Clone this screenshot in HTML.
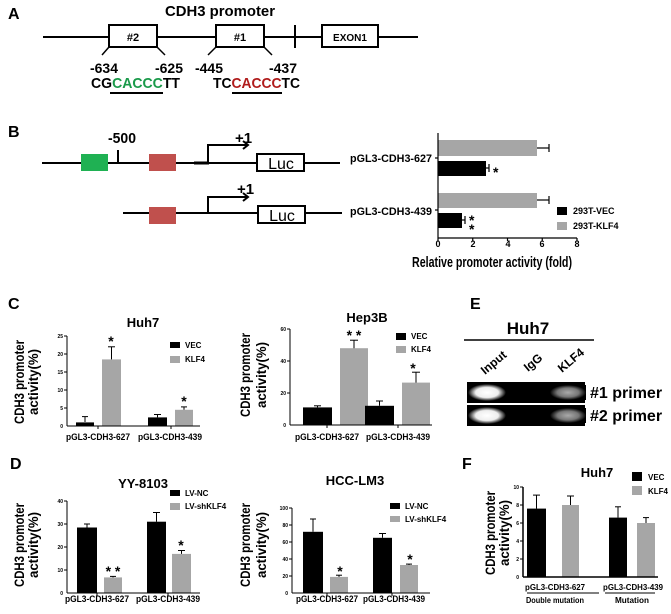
<!DOCTYPE html>
<html><head><meta charset="utf-8"><style>
html,body{margin:0;padding:0;background:#fff}
svg{display:block}
text{font-family:"Liberation Sans",sans-serif;font-weight:bold;fill:#000}
</style></head><body>
<svg width="671" height="614" viewBox="0 0 671 614" xmlns="http://www.w3.org/2000/svg">
<!-- A -->
<text x="8" y="19" font-size="16">A</text>
<text x="165" y="16" font-size="15" textLength="110" lengthAdjust="spacingAndGlyphs">CDH3  promoter</text>
<g stroke="#000" stroke-width="2" fill="none">
<line x1="43" y1="37" x2="418" y2="37"/>
<rect x="109" y="25" width="48" height="22" fill="#fff"/>
<rect x="216" y="25" width="48" height="22" fill="#fff"/>
<rect x="322" y="25" width="56" height="22" fill="#fff"/>
<line x1="295" y1="25" x2="295" y2="48"/>
<line x1="109" y1="47" x2="102" y2="55" stroke-width="1.5"/>
<line x1="157" y1="47" x2="165" y2="55" stroke-width="1.5"/>
<line x1="216" y1="47" x2="208" y2="55" stroke-width="1.5"/>
<line x1="264" y1="47" x2="272" y2="55" stroke-width="1.5"/>
</g>
<text x="133" y="41" font-size="11" text-anchor="middle">#2</text>
<text x="240" y="41" font-size="11" text-anchor="middle">#1</text>
<text x="350" y="41" font-size="10" text-anchor="middle">EXON1</text>
<text x="90" y="73" font-size="14" textLength="28" lengthAdjust="spacingAndGlyphs">-634</text>
<text x="155" y="73" font-size="14" textLength="28" lengthAdjust="spacingAndGlyphs">-625</text>
<text x="195" y="73" font-size="14" textLength="28" lengthAdjust="spacingAndGlyphs">-445</text>
<text x="269" y="73" font-size="14" textLength="28" lengthAdjust="spacingAndGlyphs">-437</text>
<text x="91" y="88" font-size="15" textLength="89" lengthAdjust="spacingAndGlyphs">CG<tspan fill="#1a9a4a">CACCC</tspan>TT</text>
<text x="213" y="88" font-size="15" textLength="87" lengthAdjust="spacingAndGlyphs">TC<tspan fill="#b01c1c">CACCC</tspan>TC</text>
<line x1="110" y1="93" x2="163" y2="93" stroke="#000" stroke-width="2"/>
<line x1="232" y1="93" x2="282" y2="93" stroke="#000" stroke-width="2"/>

<!-- B diagram -->
<text x="8" y="137" font-size="16">B</text>
<g stroke="#000" stroke-width="2" fill="none">
<line x1="42" y1="163" x2="340" y2="163"/>
<line x1="118" y1="150" x2="118" y2="163"/>
<line x1="194" y1="163" x2="209" y2="163" stroke-width="3"/>
<polyline points="208,163 208,145 248,145"/>
<polyline points="243,141 248,145 243,149"/>
<line x1="123" y1="213" x2="342" y2="213"/>
<polyline points="208,213 208,197 248,197"/>
<polyline points="243,193 248,197 243,201"/>
<rect x="257" y="154" width="47" height="17" fill="#fff"/>
<rect x="258" y="206" width="47" height="17" fill="#fff"/>
</g>
<rect x="81" y="154" width="27" height="17" fill="#1fb153"/>
<rect x="149" y="154" width="27" height="17" fill="#c0504d"/>
<rect x="149" y="207" width="27" height="17" fill="#c0504d"/>
<text x="108" y="143" font-size="15" textLength="28" lengthAdjust="spacingAndGlyphs">-500</text>
<text x="235" y="143" font-size="15">+1</text>
<text x="237" y="194" font-size="15">+1</text>
<text x="281" y="169" font-size="16" text-anchor="middle" style="font-weight:normal">Luc</text>
<text x="282" y="221" font-size="16" text-anchor="middle" style="font-weight:normal">Luc</text>

<!-- B chart -->
<g>
<rect x="438" y="140" width="99" height="16" fill="#a6a6a6"/>
<rect x="438" y="161" width="48" height="15" fill="#000"/>
<rect x="438" y="193" width="99" height="15" fill="#a6a6a6"/>
<rect x="438" y="213" width="24" height="15" fill="#000"/>
<g stroke="#000" stroke-width="1.2">
<line x1="537" y1="148" x2="549" y2="148"/><line x1="549" y1="144" x2="549" y2="152"/>
<line x1="486" y1="168" x2="489" y2="168"/><line x1="489" y1="164" x2="489" y2="172"/>
<line x1="537" y1="200" x2="549" y2="200"/><line x1="549" y1="196" x2="549" y2="204"/>
<line x1="462" y1="220" x2="465" y2="220"/><line x1="465" y1="216" x2="465" y2="224"/>
<line x1="438" y1="133" x2="438" y2="238"/>
<line x1="438" y1="238" x2="577" y2="238"/>
<line x1="435" y1="158" x2="438" y2="158"/><line x1="435" y1="210" x2="438" y2="210"/>
<line x1="438" y1="238" x2="438" y2="241"/><line x1="472.75" y1="238" x2="472.75" y2="241"/><line x1="507.5" y1="238" x2="507.5" y2="241"/><line x1="542.25" y1="238" x2="542.25" y2="241"/><line x1="577" y1="238" x2="577" y2="241"/>
</g>
<g font-size="9" text-anchor="middle" style="font-weight:normal">
<text x="438" y="247">0</text><text x="473" y="247">2</text><text x="508" y="247">4</text><text x="542" y="247">6</text><text x="577" y="247">8</text>
</g>
<text x="432" y="162" font-size="11" text-anchor="end" textLength="82" lengthAdjust="spacingAndGlyphs">pGL3-CDH3-627</text>
<text x="432" y="215" font-size="11" text-anchor="end" textLength="82" lengthAdjust="spacingAndGlyphs">pGL3-CDH3-439</text>
<text x="493" y="177" font-size="14">*</text>
<text x="469" y="225" font-size="14">*</text>
<text x="469" y="234" font-size="14">*</text>
<rect x="557" y="207" width="10" height="8" fill="#000"/>
<rect x="557" y="222" width="10" height="8" fill="#a6a6a6"/>
<text x="573" y="214" font-size="9">293T-VEC</text>
<text x="573" y="229" font-size="9">293T-KLF4</text>
<text x="492" y="267" font-size="15" text-anchor="middle" textLength="160" lengthAdjust="spacingAndGlyphs">Relative promoter activity (fold)</text>
</g>

<!-- C -->
<text x="8" y="309" font-size="16">C</text>
<text x="143" y="327" font-size="13" text-anchor="middle">Huh7</text>
<g transform="translate(24,382) rotate(-90)"><text x="0" y="0" font-size="14" text-anchor="middle" textLength="84" lengthAdjust="spacingAndGlyphs">CDH3 promoter</text></g>
<g transform="translate(38,382) rotate(-90)"><text x="0" y="0" font-size="14" text-anchor="middle" textLength="66" lengthAdjust="spacingAndGlyphs">activity(%)</text></g>
<rect x="76" y="422.4" width="18" height="3.6" fill="#000"/>
<rect x="102" y="359.4" width="19" height="66.6" fill="#a6a6a6"/>
<rect x="148" y="417.4" width="19" height="8.6" fill="#000"/>
<rect x="175" y="409.8" width="18" height="16.2" fill="#a6a6a6"/>
<g stroke="#000" stroke-width="1">
<line x1="85" y1="422" x2="85" y2="416.6"/><line x1="82" y1="416.6" x2="88" y2="416.6"/>
<line x1="111.5" y1="359.4" x2="111.5" y2="346.8"/><line x1="108" y1="346.8" x2="115" y2="346.8"/>
<line x1="157.5" y1="417.4" x2="157.5" y2="414.5"/><line x1="154" y1="414.5" x2="161" y2="414.5"/>
<line x1="184" y1="409.8" x2="184" y2="406.9"/><line x1="181" y1="406.9" x2="187" y2="406.9"/>
<line x1="67" y1="336" x2="67" y2="426"/><line x1="67" y1="426" x2="200" y2="426"/>
<line x1="64" y1="336" x2="67" y2="336"/><line x1="64" y1="354" x2="67" y2="354"/><line x1="64" y1="372" x2="67" y2="372"/><line x1="64" y1="390" x2="67" y2="390"/><line x1="64" y1="408" x2="67" y2="408"/>
<line x1="98" y1="426" x2="98" y2="429"/><line x1="171" y1="426" x2="171" y2="429"/>
</g>
<g font-size="5" text-anchor="end" style="font-weight:normal"><text x="63" y="338">25</text><text x="63" y="356">20</text><text x="63" y="374">15</text><text x="63" y="392">10</text><text x="63" y="410">5</text><text x="63" y="428">0</text></g>
<text x="98" y="440" font-size="9" text-anchor="middle" textLength="64" lengthAdjust="spacingAndGlyphs">pGL3-CDH3-627</text>
<text x="170" y="440" font-size="9" text-anchor="middle" textLength="64" lengthAdjust="spacingAndGlyphs">pGL3-CDH3-439</text>
<text x="111" y="346" font-size="14" text-anchor="middle">*</text>
<text x="184" y="406" font-size="14" text-anchor="middle">*</text>
<rect x="170" y="342" width="10" height="6" fill="#000"/><text x="185" y="348" font-size="8">VEC</text>
<rect x="170" y="356" width="10" height="7" fill="#a6a6a6"/><text x="185" y="362" font-size="8">KLF4</text>

<!-- Hep3B -->
<text x="367" y="322" font-size="13" text-anchor="middle">Hep3B</text>
<g transform="translate(250,375) rotate(-90)"><text x="0" y="0" font-size="14" text-anchor="middle" textLength="84" lengthAdjust="spacingAndGlyphs">CDH3 promoter</text></g>
<g transform="translate(266,375) rotate(-90)"><text x="0" y="0" font-size="14" text-anchor="middle" textLength="66" lengthAdjust="spacingAndGlyphs">activity(%)</text></g>
<rect x="303" y="407.4" width="29" height="17.6" fill="#000"/>
<rect x="340" y="348.2" width="28" height="76.8" fill="#a6a6a6"/>
<rect x="365" y="405.8" width="29" height="19.2" fill="#000"/>
<rect x="402" y="382.6" width="28" height="42.4" fill="#a6a6a6"/>
<g stroke="#000" stroke-width="1">
<line x1="317.5" y1="407.4" x2="317.5" y2="405.8"/><line x1="314" y1="405.8" x2="321" y2="405.8"/>
<line x1="354" y1="348.2" x2="354" y2="340.2"/><line x1="350" y1="340.2" x2="358" y2="340.2"/>
<line x1="379.5" y1="405.8" x2="379.5" y2="401"/><line x1="376" y1="401" x2="383" y2="401"/>
<line x1="416" y1="382.6" x2="416" y2="372.2"/><line x1="412" y1="372.2" x2="420" y2="372.2"/>
<line x1="290" y1="329" x2="290" y2="425"/><line x1="290" y1="425" x2="432" y2="425"/>
<line x1="287" y1="329" x2="290" y2="329"/><line x1="287" y1="361" x2="290" y2="361"/><line x1="287" y1="393" x2="290" y2="393"/>
<line x1="327" y1="425" x2="327" y2="428"/><line x1="398" y1="425" x2="398" y2="428"/>
</g>
<g font-size="5" text-anchor="end" style="font-weight:normal"><text x="286" y="331">60</text><text x="286" y="363">40</text><text x="286" y="395">20</text><text x="286" y="427">0</text></g>
<text x="327" y="440" font-size="9" text-anchor="middle" textLength="64" lengthAdjust="spacingAndGlyphs">pGL3-CDH3-627</text>
<text x="398" y="440" font-size="9" text-anchor="middle" textLength="64" lengthAdjust="spacingAndGlyphs">pGL3-CDH3-439</text>
<text x="354" y="340" font-size="14" text-anchor="middle">* *</text>
<text x="413" y="373" font-size="14" text-anchor="middle">*</text>
<rect x="396" y="333" width="10" height="7" fill="#000"/><text x="411" y="339" font-size="8">VEC</text>
<rect x="396" y="346" width="10" height="7" fill="#a6a6a6"/><text x="411" y="352" font-size="8">KLF4</text>

<!-- E -->
<text x="470" y="309" font-size="16">E</text>
<text x="528" y="334" font-size="17" text-anchor="middle">Huh7</text>
<line x1="464" y1="340" x2="594" y2="340" stroke="#000" stroke-width="1.5"/>
<g font-size="12"><text transform="translate(485,375) rotate(-40)">Input</text><text transform="translate(528,372) rotate(-40)">IgG</text><text transform="translate(562,373) rotate(-40)">KLF4</text></g>
<rect x="467" y="382" width="118" height="21" fill="#000"/>
<rect x="467" y="405" width="118" height="21" fill="#000"/>
<defs>
<radialGradient id="g1" cx="0.5" cy="0.5" r="0.5"><stop offset="0" stop-color="#fff"/><stop offset="0.6" stop-color="#eee"/><stop offset="1" stop-color="#000"/></radialGradient>
<radialGradient id="g2" cx="0.5" cy="0.5" r="0.5"><stop offset="0" stop-color="#aaa"/><stop offset="0.6" stop-color="#777"/><stop offset="1" stop-color="#000"/></radialGradient>
</defs>
<rect x="468" y="384" width="38" height="17" fill="url(#g1)"/>
<rect x="468" y="407" width="38" height="17" fill="url(#g1)"/>
<rect x="550" y="385" width="36" height="15" fill="url(#g2)"/>
<rect x="550" y="408" width="36" height="15" fill="url(#g2)"/>
<text x="590" y="398" font-size="16">#1 primer</text>
<text x="590" y="421" font-size="16">#2 primer</text>

<!-- D -->
<text x="10" y="469" font-size="16">D</text>
<text x="143" y="488" font-size="13" text-anchor="middle">YY-8103</text>
<g transform="translate(24,545) rotate(-90)"><text x="0" y="0" font-size="14" text-anchor="middle" textLength="84" lengthAdjust="spacingAndGlyphs">CDH3 promoter</text></g>
<g transform="translate(38,545) rotate(-90)"><text x="0" y="0" font-size="14" text-anchor="middle" textLength="66" lengthAdjust="spacingAndGlyphs">activity(%)</text></g>
<rect x="77" y="527.5" width="20" height="65.5" fill="#000"/>
<rect x="104" y="577.4" width="18" height="15.6" fill="#a6a6a6"/>
<rect x="147" y="521.7" width="19" height="71.3" fill="#000"/>
<rect x="172" y="553.9" width="19" height="39.1" fill="#a6a6a6"/>
<g stroke="#000" stroke-width="1">
<line x1="87" y1="527.5" x2="87" y2="524"/><line x1="84" y1="524" x2="90" y2="524"/>
<line x1="113" y1="577.4" x2="113" y2="576.4"/><line x1="110" y1="576.4" x2="116" y2="576.4"/>
<line x1="156.5" y1="521.7" x2="156.5" y2="512.5"/><line x1="153" y1="512.5" x2="160" y2="512.5"/>
<line x1="181.5" y1="553.9" x2="181.5" y2="550.5"/><line x1="178" y1="550.5" x2="185" y2="550.5"/>
<line x1="67" y1="501" x2="67" y2="593"/><line x1="67" y1="593" x2="200" y2="593"/>
<line x1="64" y1="501" x2="67" y2="501"/><line x1="64" y1="524" x2="67" y2="524"/><line x1="64" y1="547" x2="67" y2="547"/><line x1="64" y1="570" x2="67" y2="570"/>
<line x1="97" y1="593" x2="97" y2="596"/><line x1="168" y1="593" x2="168" y2="596"/>
</g>
<g font-size="5" text-anchor="end" style="font-weight:normal"><text x="63" y="503">40</text><text x="63" y="526">30</text><text x="63" y="549">20</text><text x="63" y="572">10</text><text x="63" y="595">0</text></g>
<text x="97" y="602" font-size="9" text-anchor="middle" textLength="64" lengthAdjust="spacingAndGlyphs">pGL3-CDH3-627</text>
<text x="168" y="602" font-size="9" text-anchor="middle" textLength="64" lengthAdjust="spacingAndGlyphs">pGL3-CDH3-439</text>
<text x="113" y="576" font-size="14" text-anchor="middle">* *</text>
<text x="181" y="550" font-size="14" text-anchor="middle">*</text>
<rect x="170" y="490" width="10" height="6" fill="#000"/><text x="185" y="496" font-size="8">LV-NC</text>
<rect x="170" y="503" width="10" height="7" fill="#a6a6a6"/><text x="185" y="509" font-size="8">LV-shKLF4</text>

<!-- HCC-LM3 -->
<text x="355" y="485" font-size="13" text-anchor="middle">HCC-LM3</text>
<g transform="translate(250,545) rotate(-90)"><text x="0" y="0" font-size="14" text-anchor="middle" textLength="84" lengthAdjust="spacingAndGlyphs">CDH3 promoter</text></g>
<g transform="translate(266,545) rotate(-90)"><text x="0" y="0" font-size="14" text-anchor="middle" textLength="66" lengthAdjust="spacingAndGlyphs">activity(%)</text></g>
<rect x="303" y="531.8" width="20" height="61.2" fill="#000"/>
<rect x="330" y="576.9" width="18" height="16.1" fill="#a6a6a6"/>
<rect x="373" y="537.8" width="19" height="55.2" fill="#000"/>
<rect x="400" y="565" width="18" height="28" fill="#a6a6a6"/>
<g stroke="#000" stroke-width="1">
<line x1="313" y1="531.8" x2="313" y2="519"/><line x1="310" y1="519" x2="316" y2="519"/>
<line x1="339" y1="576.9" x2="339" y2="575.2"/><line x1="336" y1="575.2" x2="342" y2="575.2"/>
<line x1="382.5" y1="537.8" x2="382.5" y2="533.5"/><line x1="379" y1="533.5" x2="386" y2="533.5"/>
<line x1="409" y1="565" x2="409" y2="564.1"/><line x1="406" y1="564.1" x2="412" y2="564.1"/>
<line x1="292" y1="508" x2="292" y2="593"/><line x1="292" y1="593" x2="430" y2="593"/>
<line x1="289" y1="508" x2="292" y2="508"/><line x1="289" y1="525" x2="292" y2="525"/><line x1="289" y1="542" x2="292" y2="542"/><line x1="289" y1="559" x2="292" y2="559"/><line x1="289" y1="576" x2="292" y2="576"/>
<line x1="327" y1="593" x2="327" y2="596"/><line x1="392" y1="593" x2="392" y2="596"/>
</g>
<g font-size="5" text-anchor="end" style="font-weight:normal"><text x="288" y="510">100</text><text x="288" y="527">80</text><text x="288" y="544">60</text><text x="288" y="561">40</text><text x="288" y="578">20</text><text x="288" y="595">0</text></g>
<text x="327" y="602" font-size="9" text-anchor="middle" textLength="62" lengthAdjust="spacingAndGlyphs">pGL3-CDH3-627</text>
<text x="394" y="602" font-size="9" text-anchor="middle" textLength="62" lengthAdjust="spacingAndGlyphs">pGL3-CDH3-439</text>
<text x="340" y="576" font-size="14" text-anchor="middle">*</text>
<text x="410" y="564" font-size="14" text-anchor="middle">*</text>
<rect x="390" y="503" width="10" height="6" fill="#000"/><text x="405" y="509" font-size="8">LV-NC</text>
<rect x="390" y="516" width="10" height="6" fill="#a6a6a6"/><text x="405" y="522" font-size="8">LV-shKLF4</text>

<!-- F -->
<text x="462" y="469" font-size="16">F</text>
<text x="597" y="477" font-size="13" text-anchor="middle">Huh7</text>
<g transform="translate(495,533) rotate(-90)"><text x="0" y="0" font-size="14" text-anchor="middle" textLength="84" lengthAdjust="spacingAndGlyphs">CDH3 promoter</text></g>
<g transform="translate(509,533) rotate(-90)"><text x="0" y="0" font-size="14" text-anchor="middle" textLength="66" lengthAdjust="spacingAndGlyphs">activity(%)</text></g>
<rect x="527" y="508.6" width="19" height="68.4" fill="#000"/>
<rect x="562" y="505" width="17" height="72" fill="#a6a6a6"/>
<rect x="609" y="517.6" width="18" height="59.4" fill="#000"/>
<rect x="637" y="523" width="18" height="54" fill="#a6a6a6"/>
<g stroke="#000" stroke-width="1">
<line x1="536.5" y1="508.6" x2="536.5" y2="495.1"/><line x1="533" y1="495.1" x2="540" y2="495.1"/>
<line x1="570.5" y1="505" x2="570.5" y2="496"/><line x1="567" y1="496" x2="574" y2="496"/>
<line x1="618" y1="517.6" x2="618" y2="506.8"/><line x1="615" y1="506.8" x2="621" y2="506.8"/>
<line x1="646" y1="523" x2="646" y2="517.6"/><line x1="643" y1="517.6" x2="649" y2="517.6"/>
<line x1="523" y1="487" x2="523" y2="577" stroke-width="1.5"/><line x1="523" y1="577" x2="658" y2="577" stroke-width="1.5"/>
<line x1="520" y1="487" x2="523" y2="487"/><line x1="520" y1="505" x2="523" y2="505"/><line x1="520" y1="523" x2="523" y2="523"/><line x1="520" y1="541" x2="523" y2="541"/><line x1="520" y1="559" x2="523" y2="559"/>
<line x1="527" y1="593" x2="599" y2="593"/><line x1="605" y1="593" x2="655" y2="593"/>
</g>
<g font-size="5" text-anchor="end"><text x="519" y="489">10</text><text x="519" y="507">8</text><text x="519" y="525">6</text><text x="519" y="543">4</text><text x="519" y="561">2</text><text x="519" y="579">0</text></g>
<text x="555" y="590" font-size="8" text-anchor="middle" textLength="60" lengthAdjust="spacingAndGlyphs">pGL3-CDH3-627</text>
<text x="633" y="590" font-size="8" text-anchor="middle" textLength="60" lengthAdjust="spacingAndGlyphs">pGL3-CDH3-439</text>
<text x="555" y="603" font-size="8" text-anchor="middle" textLength="58" lengthAdjust="spacingAndGlyphs">Double mutation</text>
<text x="632" y="603" font-size="8" text-anchor="middle" textLength="34" lengthAdjust="spacingAndGlyphs">Mutation</text>
<rect x="632" y="472" width="10" height="9" fill="#000"/><text x="648" y="480" font-size="8">VEC</text>
<rect x="632" y="486" width="10" height="9" fill="#a6a6a6"/><text x="648" y="494" font-size="8">KLF4</text>
</svg>
</body></html>
